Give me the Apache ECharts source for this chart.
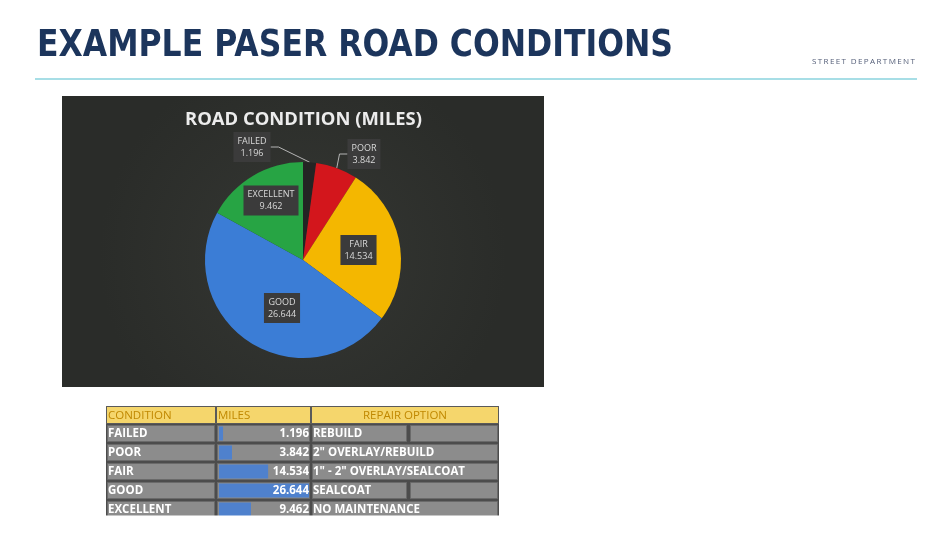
<!DOCTYPE html>
<html><head><meta charset="utf-8">
<script src="https://cdn.jsdelivr.net/npm/echarts@6/dist/echarts.min.js"></script>
<style>html,body{margin:0;padding:0;background:#fff}#c{width:950px;height:536px}</style>
</head><body><div id="c"></div>
<script>
// ---- data ----
const pageTitle = 'EXAMPLE PASER ROAD CONDITIONS';
const pageTag = 'STREET DEPARTMENT';
const chartTitle = 'ROAD CONDITION (MILES)';
const categories = ['FAILED', 'POOR', 'FAIR', 'GOOD', 'EXCELLENT'];
const miles = [1.196, 3.842, 14.534, 26.644, 9.462];
const repairOptions = ['REBUILD', '2" OVERLAY/REBUILD', '1" - 2" OVERLAY/SEALCOAT', 'SEALCOAT', 'NO MAINTENANCE'];
const repairHasEmptyCell = [true, false, false, true, false];
const tableHeaders = ['CONDITION', 'MILES', 'REPAIR OPTION'];

// ---- styles / layout ----
const sliceColors = ['#242424', '#d3161c', '#f4b700', '#3b7dd6', '#27a444'];
const pieCenter = [303, 260];
const pieRadius = 98;
const labelOffsets = [[-51, -113], [61, -106], [55.5, -10], [-21, 48], [-32, -59.5]];

function measure(text, font) {
  const c = document.createElement('canvas').getContext('2d');
  c.font = font;
  return c.measureText(text).width;
}

const titleFont = 'bold 38px "DejaVu Sans"';
const titleScale = 636 / measure(pageTitle, titleFont);
const tagText = pageTag.split('').join('\u2009');
const tagFont = '8px "Open Sans"';
const tagScale = 103 / measure(tagText, tagFont);
const chartTitleFont = 'bold 17px "Open Sans"';
const chartTitleScale = 237 / measure(chartTitle, chartTitleFont);

const cols = [106, 216, 311, 499];
const splitX = 408;
const headTop = 406, headH = 18, rowH = 19;
const rowTop = headTop + headH;
const tFont = 'Open Sans';

const g = [];
// page title
g.push({ type: 'text', x: 37, y: 46.4, scaleX: titleScale, z: 5,
  style: { text: pageTitle, fontSize: 38, fontWeight: 'bold', fontFamily: 'DejaVu Sans', fill: '#1c355c', align: 'left', verticalAlign: 'middle' } });
g.push({ type: 'text', x: 812, y: 62, scaleX: tagScale, z: 5,
  style: { text: tagText, fontSize: 8, fontFamily: 'Open Sans', fill: '#56607a', align: 'left', verticalAlign: 'middle' } });
g.push({ type: 'line', z: 5, shape: { x1: 35, y1: 79, x2: 917, y2: 79 }, style: { stroke: '#8ad3de', lineWidth: 1.5 } });

// dark chart panel
g.push({ type: 'rect', z: 0, shape: { x: 62, y: 96, width: 482, height: 291 },
  style: { fill: { type: 'radial', x: 0.5, y: 0.55, r: 0.7, colorStops: [{ offset: 0, color: '#353733' }, { offset: 1, color: '#2a2c29' }] } } });
g.push({ type: 'text', x: 185, y: 120, z: 5, scaleX: chartTitleScale,
  style: { text: chartTitle, fontSize: 17, fontWeight: 'bold', fontFamily: 'Open Sans', fill: '#ececec', align: 'left', verticalAlign: 'middle' } });

// table background
g.push({ type: 'rect', z: 0, shape: { x: cols[0], y: headTop, width: cols[3] - cols[0], height: 536 - headTop }, style: { fill: '#4c4c4c' } });
// header cells
for (let i = 0; i < 3; i++) {
  g.push({ type: 'rect', z: 1, shape: { x: cols[i] + 0.5, y: headTop + 0.5, width: cols[i + 1] - cols[i] - 1, height: headH - 1 },
    style: { fill: '#f5d66c', stroke: '#5a5a5a', lineWidth: 1 } });
  g.push({ type: 'text', z: 10, x: i === 2 ? (cols[2] + cols[3]) / 2 : cols[i] + 2, y: headTop + headH / 2 + 0.5,
    style: { text: tableHeaders[i], fontSize: 11.5, fontFamily: tFont, fill: '#c08800', align: i === 2 ? 'center' : 'left', verticalAlign: 'middle' } });
}
// body rows
const cellStyle = { fill: '#8c8c8c', stroke: '#6a6a6a', lineWidth: 1 };
for (let r = 0; r < categories.length; r++) {
  const y = rowTop + r * rowH;
  const cells = [[cols[0], cols[1]], [cols[1], cols[2]]];
  if (repairHasEmptyCell[r]) { cells.push([cols[2], splitX]); cells.push([splitX + 1, cols[3]]); }
  else cells.push([cols[2], cols[3]]);
  cells.forEach(c => g.push({ type: 'rect', z: 1, shape: { x: c[0] + 1.5, y: y + 1.5, width: c[1] - c[0] - 3, height: rowH - 3 }, style: cellStyle }));
  const ty = y + rowH / 2 + 0.5;
  const ts = { fontSize: 11.5, fontWeight: 'bold', fontFamily: tFont, fill: '#ffffff', verticalAlign: 'middle' };
  g.push({ type: 'text', z: 10, x: cols[0] + 2, y: ty, style: Object.assign({ text: categories[r], align: 'left' }, ts) });
  g.push({ type: 'text', z: 10, x: cols[2] - 2, y: ty, style: Object.assign({ text: String(miles[r]), align: 'right' }, ts) });
  g.push({ type: 'text', z: 10, x: cols[2] + 2, y: ty, style: Object.assign({ text: repairOptions[r], align: 'left' }, ts) });
}
// crop bottom of table image
g.push({ type: 'rect', z: 100, shape: { x: 90, y: 515.5, width: 430, height: 30 }, style: { fill: '#ffffff' } });

const chart = echarts.init(document.getElementById('c'), null, { renderer: 'canvas' });
chart.setOption({
  animation: false,
  backgroundColor: '#ffffff',
  graphic: { elements: g },
  grid: { left: 219, top: rowTop, width: 90, height: rowH * categories.length },
  xAxis: { type: 'value', min: 0, max: Math.max(...miles), show: false },
  yAxis: { type: 'category', data: categories, inverse: true, show: false },
  series: [
    {
      type: 'pie', center: pieCenter, radius: pieRadius, startAngle: 90, clockwise: true, silent: true, z: 3,
      data: categories.map((c, i) => {
        const d = { name: c, value: miles[i], itemStyle: { color: sliceColors[i] } };
        if (i < 2) {
          d.label = { position: 'outside' };
          d.labelLine = { show: true, length: 8, length2: 8, lineStyle: { color: '#b5b5b5', width: 1 } };
        }
        return d;
      }),
      label: { show: true, position: 'inside', formatter: '{b}\n{c}', color: '#d9d9d9', fontSize: 9, fontFamily: 'Open Sans', lineHeight: 12, backgroundColor: '#3b3b3b', padding: [3, 4] },
      labelLine: { show: false },
      labelLayout: function (p) {
        const o = labelOffsets[p.dataIndex];
        return { x: pieCenter[0] + o[0], y: pieCenter[1] + o[1], align: 'center', verticalAlign: 'middle' };
      },
      itemStyle: { borderWidth: 0 }
    },
    {
      type: 'bar', data: miles, barWidth: 14, silent: true, z: 3,
      itemStyle: { color: '#4f81cd' }
    }
  ]
});
</script>
</body></html>
